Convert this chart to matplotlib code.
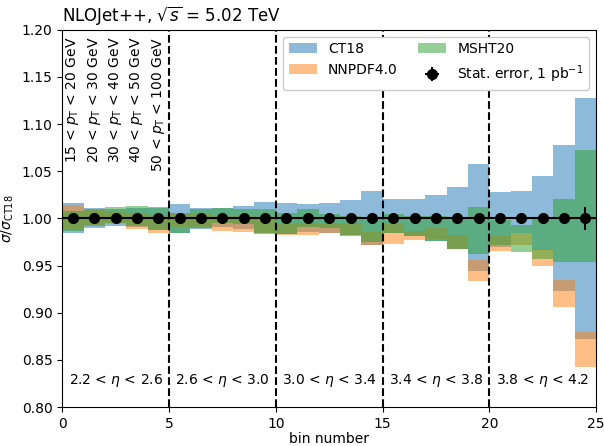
import numpy as np
import matplotlib
matplotlib.use('Agg')
import matplotlib.pyplot as plt

nbins = 25

# bandas de incertidumbre (limites superior e inferior, relativos a CT18)
ct18_up = [1.016, 1.011, 1.010, 1.011, 1.012, 1.015, 1.0106, 1.0106, 1.013, 1.0175,
           1.0166, 1.015, 1.016, 1.0195, 1.029, 1.0207, 1.0207, 1.025, 1.033, 1.058,
           1.028, 1.029, 1.045, 1.078, 1.128]
ct18_dn = [0.985, 0.9895, 0.992, 0.9905, 0.9875, 0.985, 0.989, 0.9905, 0.989, 0.983,
           0.983, 0.986, 0.984, 0.981, 0.972, 0.984, 0.981, 0.9755, 0.967, 0.944,
           0.970, 0.984, 0.966, 0.923, 0.872]

nnpdf_up = [1.014, 1.009, 1.008, 1.006, 1.004, 1.006, 1.005, 1.002, 1.002, 0.998,
            0.995, 0.995, 0.994, 0.995, 0.986, 0.994, 0.987, 0.990, 0.9825, 0.956,
            0.981, 0.984, 0.968, 0.935, 0.880]
nnpdf_dn = [0.988, 0.993, 0.994, 0.9885, 0.985, 0.991, 0.991, 0.987, 0.986, 0.985,
            0.982, 0.9823, 0.984, 0.982, 0.972, 0.973, 0.9775, 0.978, 0.968, 0.934,
            0.965, 0.972, 0.950, 0.9065, 0.842]

msht_up = [1.008, 1.010, 1.012, 1.013, 1.011, 1.006, 1.0095, 1.011, 1.0095, 1.0095,
           1.006, 1.010, 1.005, 1.003, 1.000, 1.0048, 1.003, 1.002, 1.000, 1.0125,
           0.998, 0.993, 1.000, 1.020, 1.072]
msht_dn = [0.987, 0.992, 0.9955, 0.992, 0.9875, 0.985, 0.990, 0.9947, 0.994, 0.984,
           0.983, 0.991, 0.990, 0.982, 0.975, 0.984, 0.9814, 0.9755, 0.968, 0.9624,
           0.972, 0.964, 0.957, 0.954, 0.954]

stat_err = [0.001, 0.001, 0.001, 0.001, 0.001, 0.001, 0.001, 0.001, 0.001, 0.002,
            0.001, 0.001, 0.001, 0.002, 0.002, 0.001, 0.002, 0.002, 0.002, 0.003,
            0.002, 0.002, 0.003, 0.005, 0.012]

pt_labels = [r'15 < $p_{\rm T}$ < 20 GeV', r'20 < $p_{\rm T}$ < 30 GeV',
             r'30 < $p_{\rm T}$ < 40 GeV', r'40 < $p_{\rm T}$ < 50 GeV',
             r'50 < $p_{\rm T}$ < 100 GeV']
eta_labels = [r'2.2 < $\eta$ < 2.6', r'2.6 < $\eta$ < 3.0', r'3.0 < $\eta$ < 3.4',
              r'3.4 < $\eta$ < 3.8', r'3.8 < $\eta$ < 4.2']

edges = np.arange(nbins)
centers = edges + 0.5

fig = plt.figure(figsize=(6.04, 4.46), dpi=100)
ax = fig.add_axes([0.103, 0.0874, 0.884, 0.846])

for up, dn, col, lab in [(ct18_up, ct18_dn, 'tab:blue', 'CT18'),
                         (nnpdf_up, nnpdf_dn, 'tab:orange', 'NNPDF4.0'),
                         (msht_up, msht_dn, 'tab:green', 'MSHT20')]:
    up = np.array(up)
    dn = np.array(dn)
    ax.bar(edges, up - dn, bottom=dn, width=1.0, align='edge',
           color=col, alpha=0.5, linewidth=0, label=lab)

ax.errorbar(centers, np.ones(nbins), xerr=0.5, yerr=stat_err, fmt='o',
            color='k', ms=7, lw=1.5, label=r'Stat. error, 1 pb$^{-1}$')

for xv in [5, 10, 15, 20]:
    ax.axvline(xv, color='k', ls='--', lw=1.5)

for i, lab in enumerate(pt_labels):
    ax.text(centers[i], 1.193, lab, rotation=90, ha='center', va='top')

for i, lab in enumerate(eta_labels):
    ax.text(5 * i + 2.5, 0.828, lab, ha='center', va='center')

ax.set_xlim(0, 25)
ax.set_ylim(0.80, 1.20)
ax.set_yticks(np.arange(0.80, 1.2001, 0.05))
ax.yaxis.set_major_formatter(matplotlib.ticker.FormatStrFormatter('%.2f'))
ax.set_xlabel('bin number', labelpad=1)
ax.set_ylabel(r'$\sigma/\sigma_{\rm CT18}$')
ax.set_title(r'NLOJet++, $\sqrt{s}$ = 5.02 TeV', loc='left')

leg = ax.legend(ncol=2, loc='upper right', framealpha=1.0, columnspacing=1.5)

plt.savefig('out.png')
